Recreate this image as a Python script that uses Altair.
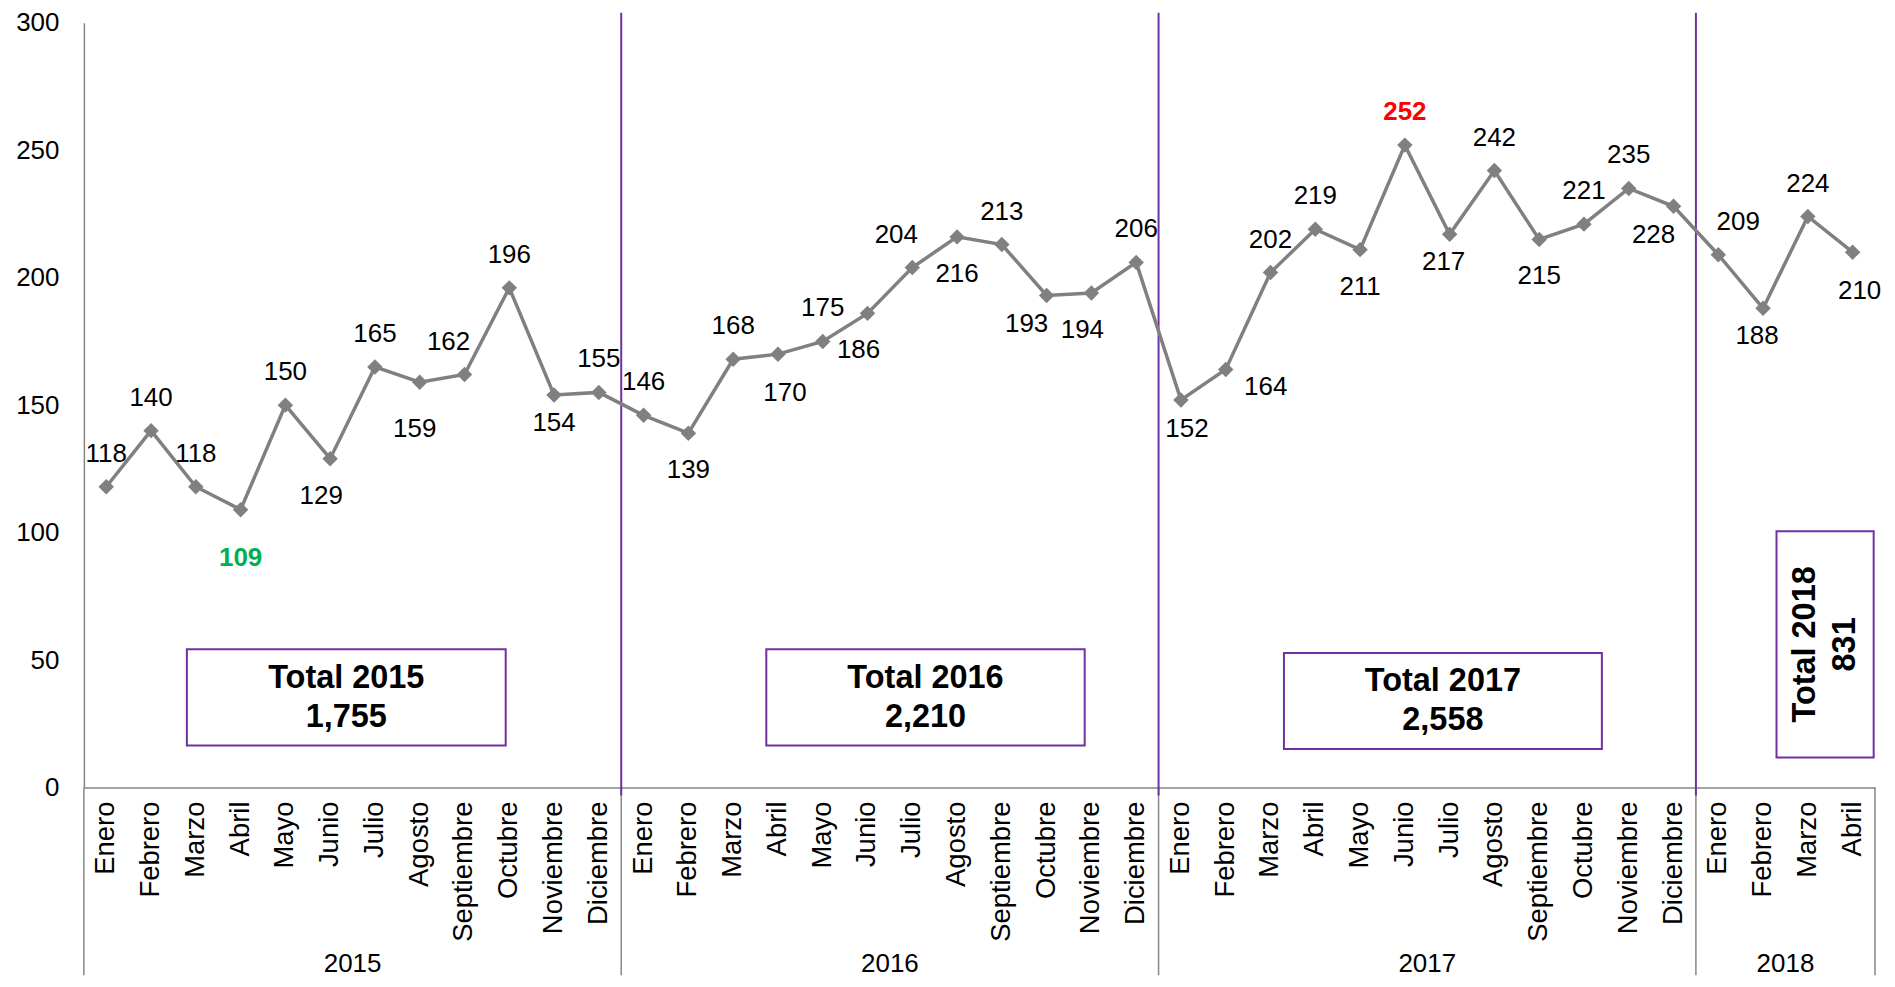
import altair as alt
import pandas as pd

# ---------------- data ----------------
MONTHS = ["Enero", "Febrero", "Marzo", "Abril", "Mayo", "Junio", "Julio",
          "Agosto", "Septiembre", "Octubre", "Noviembre", "Diciembre"]
years = ["2015", "2016", "2017", "2018"]
months_per_year = [12, 12, 12, 4]

values = [118, 140, 118, 109, 150, 129, 165, 159, 162, 196, 154, 155,
          146, 139, 168, 170, 175, 186, 204, 216, 213, 193, 194, 206,
          152, 164, 202, 219, 211, 252, 217, 242, 215, 221, 235, 228,
          209, 188, 224, 210]

# label placement code per point
label_pos = ["t", "t", "t", "b", "t", "bl", "t", "bf", "tl", "t", "bn", "t",
             "t", "b", "t", "br", "t", "bl", "tl", "b", "t", "bll", "bl", "t",
             "brn", "r", "t", "t", "b", "t", "bln", "t", "b", "t", "t", "bll",
             "tr", "bln", "t", "br"]

totals = [1755, 2210, 2558, 831]

# ---------------- layout ----------------
W, H = 1794, 766
TOP, LEFT, RIGHT, BOTTOM = 14, 76, 12, 188
PURPLE = "#7030A0"
GRAY = "#808080"
AXISGRAY = "#868686"
FONT = "Liberation Sans"
FS = 26
FS_MONTH = 27.5

offsets = {
    "t": (0, -33), "tl": (-16, -33), "tr": (20, -33),
    "b": (0, 37), "bn": (0, 28), "bf": (-5, 47),
    "bl": (-9, 37), "bll": (-20, 29), "bln": (-6, 28),
    "br": (7, 39), "brn": (6, 29), "r": (40, 18),
}

# box layout (x in month slots, y in data units)
box_x0 = [2.3, 15.24, 26.8, 37.8]
box_x1 = [9.42, 22.35, 33.9, 39.97]
box_y0 = [16.5, 16.5, 15.1, 11.8]
box_y1 = [54.2, 54.2, 52.8, 100.5]
box_rot = [0, 0, 0, 270]

# ---------------- tables ----------------
month_labels, year_of = [], []
for y, n in zip(years, months_per_year):
    month_labels += MONTHS[:n]
    year_of += [y] * n

vmin, vmax = min(values), max(values)
df = pd.DataFrame({
    "xc": [i + 0.5 for i in range(len(values))],
    "month": month_labels,
    "year": year_of,
    "value": values,
    "pos": label_pos,
    "hl": ["min" if v == vmin else ("max" if v == vmax else "") for v in values],
})

starts, ends = [], []
s = 0
for n in months_per_year:
    starts.append(s)
    ends.append(s + n)
    s += n
yr = pd.DataFrame({"year": years, "mid": [(a + b) / 2 for a, b in zip(starts, ends)]})
purple_df = pd.DataFrame({"x": ends[:-1]})
sep_df = pd.DataFrame({"x": [0] + ends})

boxes = pd.DataFrame({
    "x0": box_x0, "x1": box_x1, "y0": box_y0, "y1": box_y1,
    "xm": [(a + b) / 2 for a, b in zip(box_x0, box_x1)],
    "ym": [(a + b) / 2 for a, b in zip(box_y0, box_y1)],
    "txt": [f"Total {y}\n{t:,}" for y, t in zip(years, totals)],
    "rot": box_rot,
})

# ---------------- encodings ----------------
xscale = alt.Scale(domain=[0, 40], nice=False, zero=False)
yscale = alt.Scale(domain=[0, 300], nice=False, zero=True)
yaxis = alt.Axis(values=[0, 50, 100, 150, 200, 250, 300], title=None)


def X(f):
    return alt.X(f, type="quantitative", scale=xscale, title=None)


def Y(f):
    return alt.Y(f, type="quantitative", scale=yscale, axis=yaxis)


base = alt.Chart(df)

line = base.mark_line(color=GRAY, strokeWidth=3.5).encode(x=X("xc"), y=Y("value"))
pts = base.mark_point(shape="diamond", filled=True, size=240, color=GRAY, opacity=1).encode(
    x=X("xc"), y=Y("value"))

label_layers = []
for code, (dx, dy) in offsets.items():
    label_layers.append(
        base.transform_filter((alt.datum.pos == code) & (alt.datum.hl == ""))
        .mark_text(dx=dx, dy=dy, fontSize=FS, font=FONT, color="black", baseline="middle")
        .encode(x=X("xc"), y=Y("value"), text="value:Q")
    )
lab_min = base.transform_filter(alt.datum.hl == "min").mark_text(
    dy=48, fontSize=FS, font=FONT, fontWeight="bold", color="#00B050", baseline="middle"
).encode(x=X("xc"), y=Y("value"), text="value:Q")
lab_max = base.transform_filter(alt.datum.hl == "max").mark_text(
    dy=-33, fontSize=FS, font=FONT, fontWeight="bold", color="#FF0000", baseline="middle"
).encode(x=X("xc"), y=Y("value"), text="value:Q")

purple = alt.Chart(purple_df).mark_rule(color=PURPLE, strokeWidth=2).encode(
    x=X("x"), y=alt.value(-10), y2=alt.value(H + 8))
seps = alt.Chart(sep_df).mark_rule(color=AXISGRAY, strokeWidth=1.5).encode(
    x=X("x"), y=alt.value(H), y2=alt.value(H + BOTTOM))

month_txt = base.mark_text(angle=270, align="right", baseline="middle",
                           fontSize=FS_MONTH, font=FONT, color="black").encode(
    x=X("xc"), y=alt.value(H + 14), text="month:N")
year_txt = alt.Chart(yr).mark_text(baseline="middle", fontSize=FS, font=FONT,
                                   color="black").encode(
    x=X("mid"), y=alt.value(H + 177), text="year:N")

bx = alt.Chart(boxes)
rects = bx.mark_rect(fill="white", stroke=PURPLE, strokeWidth=2).encode(
    x=X("x0"), x2="x1", y=Y("y0"), y2="y1")
box_txt = bx.transform_filter(alt.datum.rot == 0).mark_text(
    fontSize=32.5, fontWeight="bold", font=FONT, color="black", lineBreak="\n",
    lineHeight=39, dy=-19.5, baseline="middle", align="center").encode(
    x=X("xm"), y=Y("ym"), text="txt:N")
box_txt_r = bx.transform_filter(alt.datum.rot == 270).mark_text(
    fontSize=32.5, fontWeight="bold", font=FONT, color="black", lineBreak="\n",
    lineHeight=40, dy=-20, baseline="middle", align="center", angle=270).encode(
    x=X("xm"), y=Y("ym"), text="txt:N")

chart = alt.layer(
    seps, rects, box_txt, box_txt_r, purple, line, pts, *label_layers, lab_min, lab_max,
    month_txt, year_txt,
).properties(
    width=W, height=H,
    autosize=alt.AutoSizeParams(type="none"),
    padding={"left": LEFT, "top": TOP, "right": RIGHT, "bottom": BOTTOM},
    background="white",
).configure_view(stroke=None).configure_axisX(
    labels=False, ticks=False, grid=False, domainColor=AXISGRAY, domainWidth=1.5,
).configure_axisY(
    ticks=False, grid=False, labelFontSize=FS, labelFont=FONT, labelColor="black",
    labelPadding=25, domainColor=AXISGRAY, domainWidth=1.5,
)

chart.save("out.html", embed_options={"renderer": "svg", "actions": False})
